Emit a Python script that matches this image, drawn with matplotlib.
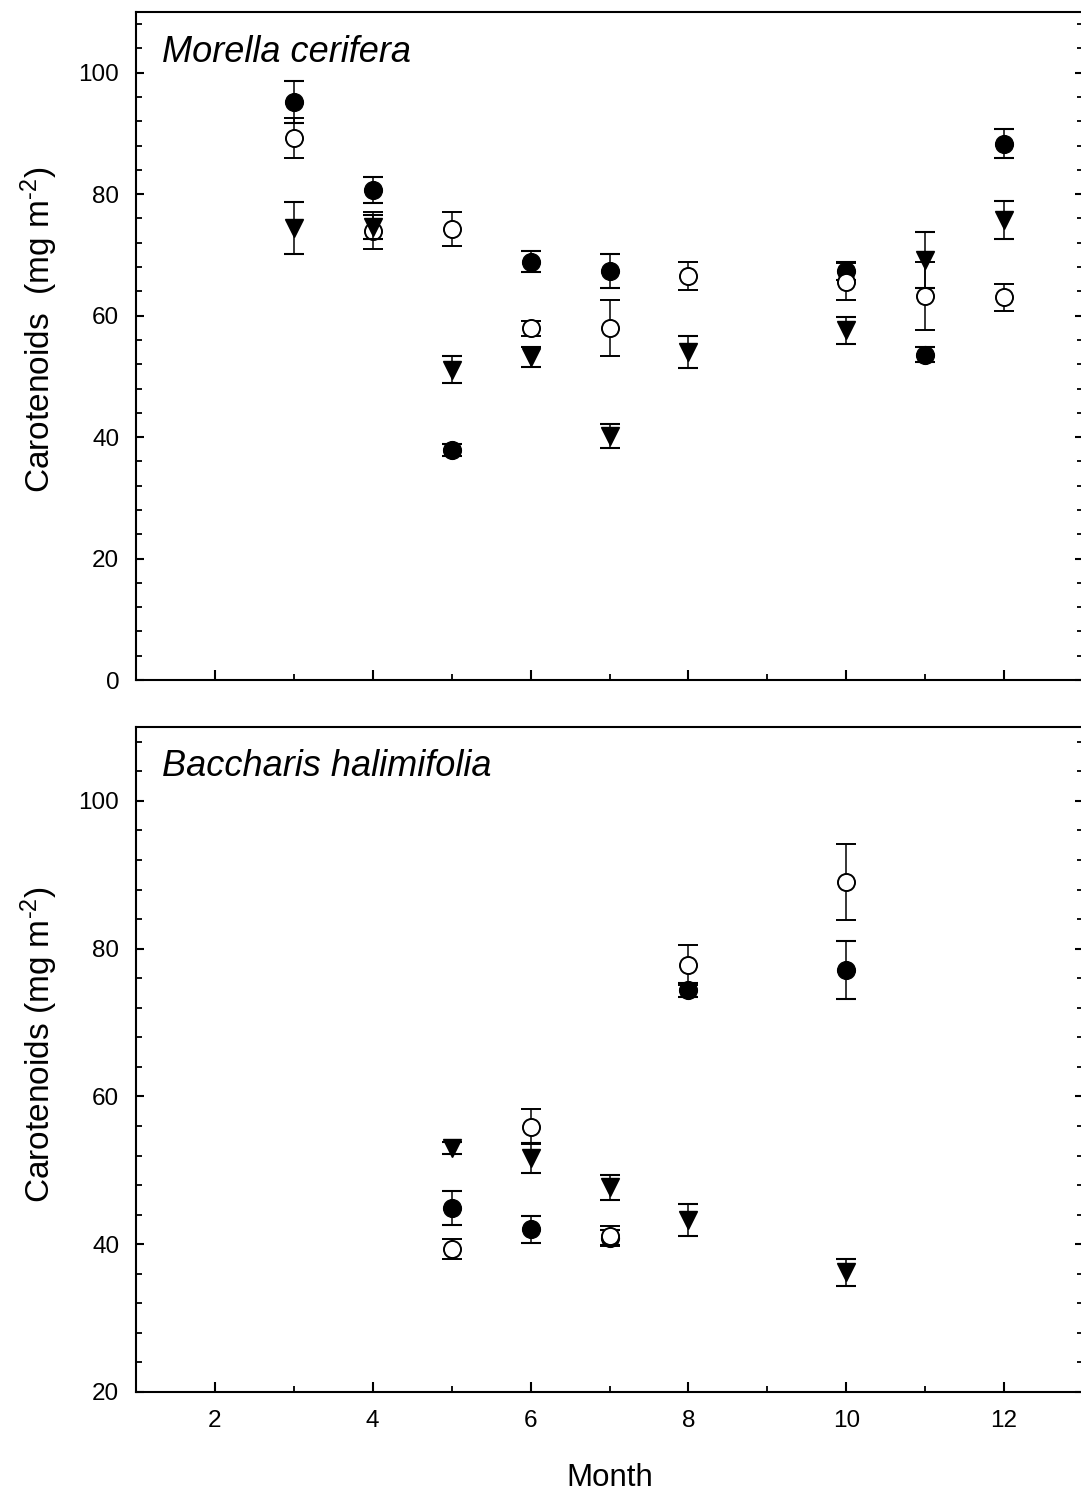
import matplotlib
matplotlib.use("Agg")
import matplotlib.pyplot as plt
from matplotlib.ticker import MultipleLocator
import numpy as np

plt.rcParams['font.family'] = ['Liberation Sans', 'DejaVu Sans']
plt.rcParams['mathtext.fontset'] = 'custom'
plt.rcParams['mathtext.rm'] = 'Liberation Sans'
plt.rcParams['mathtext.it'] = 'Liberation Sans:italic'
plt.rcParams['mathtext.bf'] = 'Liberation Sans:bold'

# ---- Morella cerifera (top panel) ----
mc_filled_x = [3, 4, 5, 6, 7, 10, 11, 12]
mc_filled_y = [95.2, 80.7, 37.9, 68.9, 67.3, 67.3, 53.6, 88.3]
mc_filled_e = [3.5, 2.2, 1.0, 1.7, 2.8, 1.5, 1.3, 2.4]

mc_open_x = [3, 4, 5, 6, 7, 8, 10, 11, 12]
mc_open_y = [89.3, 74.0, 74.3, 57.9, 57.9, 66.6, 65.6, 63.3, 63.0]
mc_open_e = [3.3, 3.0, 2.8, 1.2, 4.6, 2.3, 3.0, 5.6, 2.2]

mc_tri_x = [3, 4, 5, 6, 7, 8, 10, 11, 12]
mc_tri_y = [74.4, 74.6, 51.1, 53.2, 40.2, 54.0, 57.6, 69.1, 75.7]
mc_tri_e = [4.3, 1.9, 2.2, 1.7, 2.0, 2.7, 2.2, 4.6, 3.1]

# ---- Baccharis halimifolia (bottom panel) ----
bh_filled_x = [5, 6, 7, 8, 10]
bh_filled_y = [44.9, 42.0, 40.9, 74.4, 77.1]
bh_filled_e = [2.3, 1.8, 1.0, 1.0, 3.9]

bh_open_x = [5, 6, 7, 8, 10]
bh_open_y = [39.4, 55.9, 41.1, 77.8, 89.0]
bh_open_e = [1.35, 2.4, 1.3, 2.7, 5.1]

bh_tri_x = [5, 6, 7, 8, 10]
bh_tri_y = [53.0, 51.7, 47.7, 43.3, 36.2]
bh_tri_e = [0.8, 2.0, 1.7, 2.2, 1.8]

x_ticks = [2, 4, 6, 8, 10, 12]

W, H = 1081, 1492
fig = plt.figure(figsize=(W / 100, H / 100), dpi=100)

left_px, right_px = 136, 1083
ax1 = fig.add_axes([left_px / W, 1 - 680 / H, (right_px - left_px) / W, (680 - 12) / H])
ax2 = fig.add_axes([left_px / W, 1 - 1392 / H, (right_px - left_px) / W, (1392 - 727) / H])

eb_kw = dict(ls='none', ecolor='black', elinewidth=1.1, capsize=7.5, capthick=1.5)


def draw(ax, fx, fy, fe, ox, oy, oe, tx, ty, te):
    ax.errorbar(fx, fy, yerr=fe, marker='o', ms=12.8, mfc='black', mec='black',
                zorder=3, **eb_kw)
    ax.errorbar(ox, oy, yerr=oe, marker='o', ms=12.3, mfc='white', mec='black',
                mew=1.4, zorder=4, **eb_kw)
    ax.errorbar(tx, ty, yerr=te, marker='v', ms=12.5, mfc='black', mec='black',
                zorder=5, **eb_kw)


draw(ax1, mc_filled_x, mc_filled_y, mc_filled_e, mc_open_x, mc_open_y, mc_open_e,
     mc_tri_x, mc_tri_y, mc_tri_e)
draw(ax2, bh_filled_x, bh_filled_y, bh_filled_e, bh_open_x, bh_open_y, bh_open_e,
     bh_tri_x, bh_tri_y, bh_tri_e)

for ax in (ax1, ax2):
    ax.set_xlim(1, 13)
    ax.set_xticks(x_ticks)
    ax.xaxis.set_minor_locator(MultipleLocator(1))
    ax.yaxis.set_minor_locator(MultipleLocator(4))
    for s in ax.spines.values():
        s.set_linewidth(1.5)
    ax.tick_params(axis='x', which='major', direction='in', length=7, width=1.5,
                   top=False, labelsize=17.5, pad=13)
    ax.tick_params(axis='x', which='minor', direction='in', length=4, width=1.3, top=False)
    ax.tick_params(axis='y', which='major', direction='in', length=5.5, width=1.5,
                   right=True, labelsize=17.5, pad=12)
    ax.tick_params(axis='y', which='minor', direction='in', length=4, width=1.3, right=True)

ax1.set_ylim(0, 110)
ax1.set_yticks([0, 20, 40, 60, 80, 100])
ax1.tick_params(axis='x', labelbottom=False)
ax1.set_ylabel(r'Carotenoids  (mg m$^{\text{-2}}$)', fontsize=24)
ax1.yaxis.set_label_coords(-0.080, 0.524)
ax1.text(0.027, 0.94, 'Morella cerifera', transform=ax1.transAxes, fontsize=26,
         style='italic', ha='left', va='center')

ax2.set_ylim(20, 110)
ax2.set_yticks([20, 40, 60, 80, 100])
ax2.set_ylabel(r'Carotenoids (mg m$^{\text{-2}}$)', fontsize=24)
ax2.yaxis.set_label_coords(-0.080, 0.522)
ax2.set_xlabel('Month', fontsize=22.5, labelpad=22)
ax2.text(0.027, 0.94, 'Baccharis halimifolia', transform=ax2.transAxes, fontsize=26,
         style='italic', ha='left', va='center')

fig.savefig('out.png', dpi=100)
